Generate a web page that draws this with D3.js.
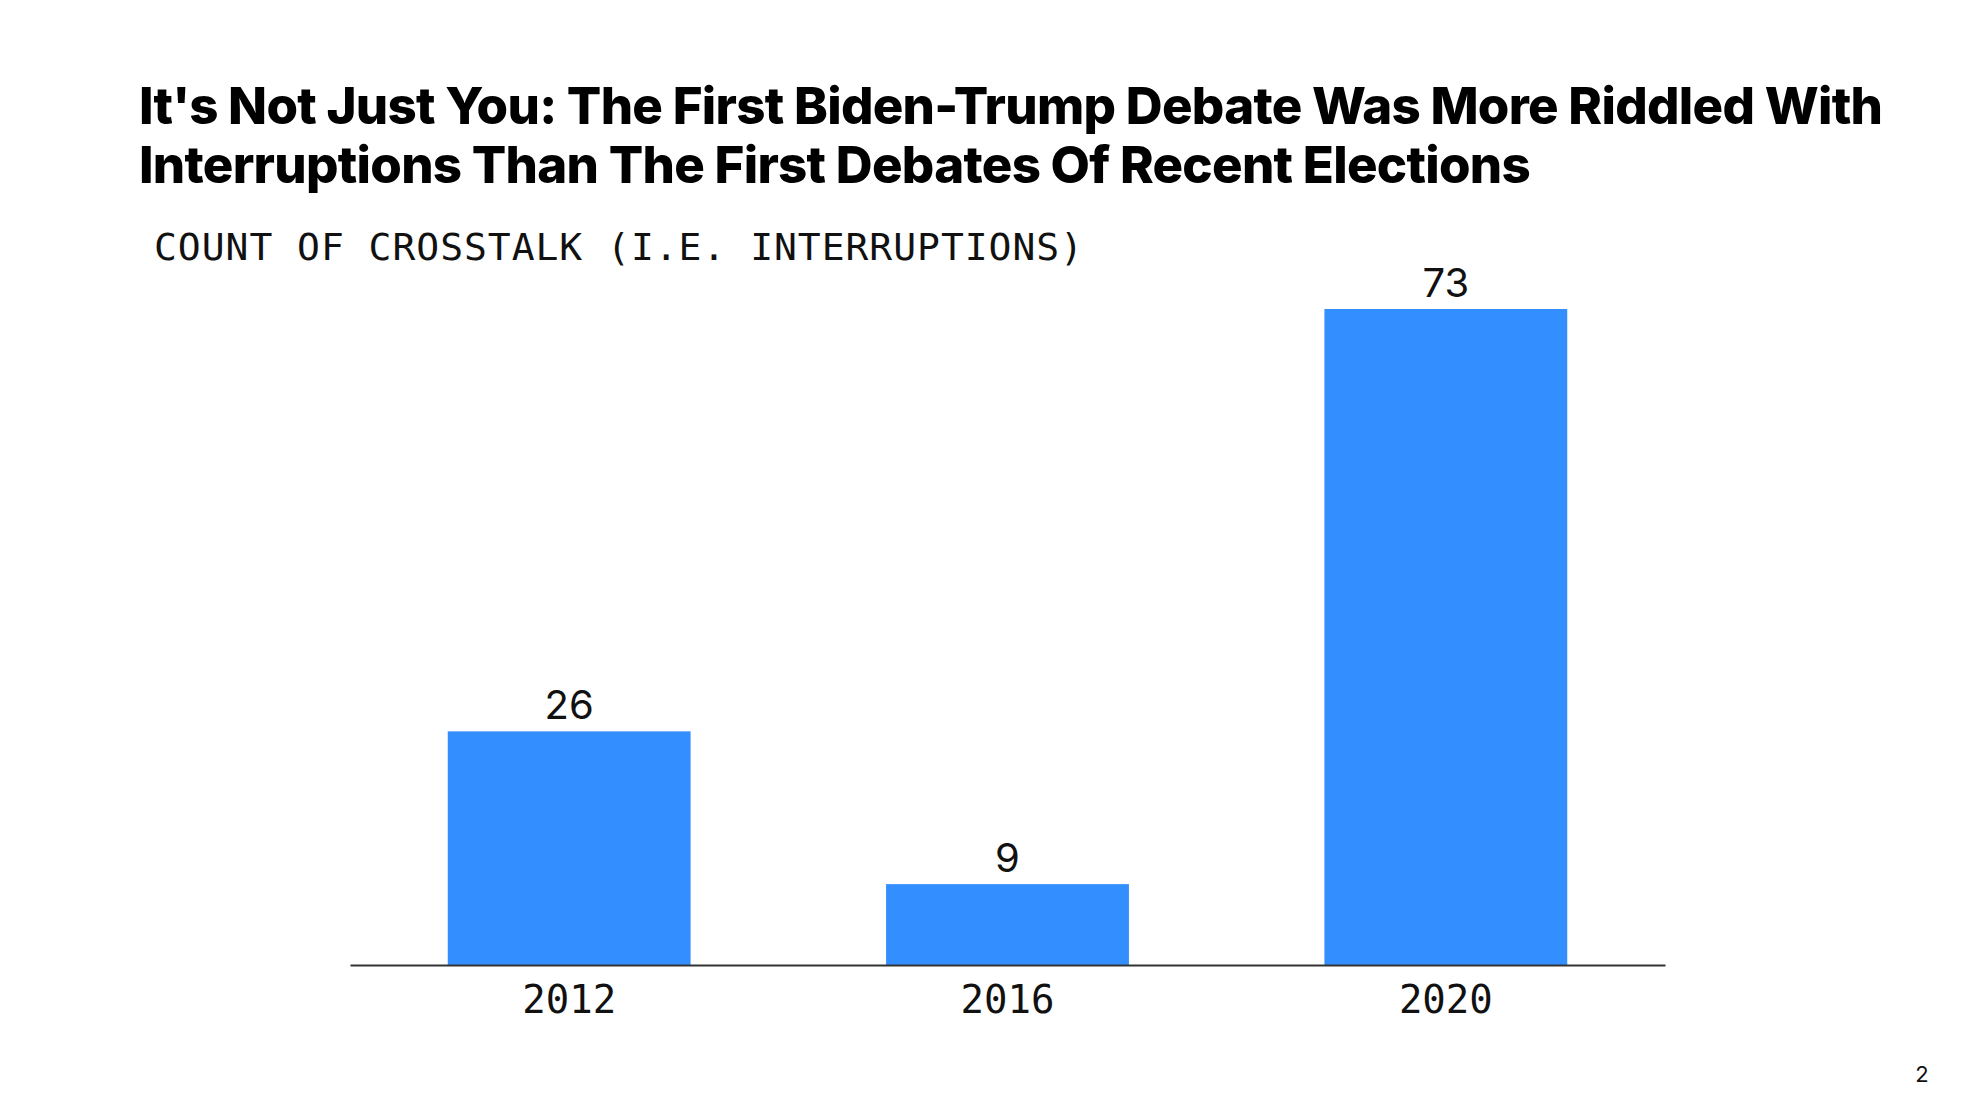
<!DOCTYPE html>
<html>
<head>
<meta charset="utf-8">
<script src="https://cdn.jsdelivr.net/npm/d3@7"></script>
<style>
  html, body { margin: 0; padding: 0; background: #fff; }
  svg { display: block; }
</style>
</head>
<body>
<svg id="chart" width="1980" height="1114"></svg>
<script>
const titleLines = [
  "It's Not Just You: The First Biden-Trump Debate Was More Riddled With",
  "Interruptions Than The First Debates Of Recent Elections"
];
const subtitle = "COUNT OF CROSSTALK (I.E. INTERRUPTIONS)";
const years = ["2012", "2016", "2020"];
const crosstalk = [26, 9, 73];
const pageNumber = "2";

const W = 1980, H = 1114;
const svg = d3.select("#chart");
svg.append("rect").attr("width", W).attr("height", H).attr("fill", "#fff");

// Title
const title = svg.append("g");
title.selectAll("text").data(titleLines).join("text")
  .attr("x", 139)
  .attr("y", (d, i) => 124 + i * 59)
  .attr("font-family", "Inter, 'Liberation Sans', sans-serif")
  .attr("font-weight", 800)
  .attr("font-size", 51)
  .attr("fill", "#000")
  .text(d => d);
(function () {
  const nodes = title.selectAll("text").nodes();
  const target = 1883 - 139;
  const len = nodes[0].getComputedTextLength();
  const n = titleLines[0].length;
  const ls = (target - len) / (n - 1);
  nodes.forEach(nd => nd.setAttribute("letter-spacing", ls));
})();

// Subtitle
svg.append("text")
  .attr("x", 154)
  .attr("y", 260)
  .attr("font-family", "'DejaVu Sans Mono', monospace")
  .attr("font-size", 38)
  .attr("fill", "#111")
  .text(subtitle)
  .each(function () {
    const len = this.getComputedTextLength();
    const target = 1083 - 154;
    this.setAttribute("letter-spacing", (target - len) / (subtitle.length - 1));
  });

// Scales
const x = d3.scaleBand().domain(years).range([350, 1665])
  .paddingInner(0.446).paddingOuter(0.223);
const y = d3.scaleLinear().domain([0, 73]).range([965, 309]);

const data = years.map((yr, i) => ({ year: yr, value: crosstalk[i] }));

svg.append("g").selectAll("rect").data(data).join("rect")
  .attr("x", d => x(d.year))
  .attr("y", d => y(d.value))
  .attr("width", x.bandwidth())
  .attr("height", d => y(0) - y(d.value))
  .attr("fill", "#338EFF");

// Value labels
svg.append("g").selectAll("text").data(data).join("text")
  .attr("x", d => x(d.year) + x.bandwidth() / 2)
  .attr("y", d => y(d.value) - 12)
  .attr("text-anchor", "middle")
  .attr("font-family", "Inter, 'Liberation Sans', sans-serif")
  .attr("font-size", 40)
  .attr("fill", "#111")
  .text(d => d.value);

// X axis
const xAxis = svg.append("g")
  .attr("transform", `translate(0,${y(0)})`)
  .call(d3.axisBottom(x).tickSize(0).tickPadding(20));
xAxis.select(".domain").attr("stroke", "#333").attr("stroke-width", 2);
xAxis.selectAll(".tick text")
  .attr("font-family", "'DejaVu Sans Mono', monospace")
  .attr("font-size", 39)
  .attr("fill", "#111")
  .attr("dy", "0.71em");

// Page number
svg.append("text")
  .attr("x", 1922)
  .attr("y", 1082)
  .attr("text-anchor", "middle")
  .attr("font-family", "Inter, 'Liberation Sans', sans-serif")
  .attr("font-size", 22)
  .attr("fill", "#111")
  .text(pageNumber);
</script>
</body>
</html>
